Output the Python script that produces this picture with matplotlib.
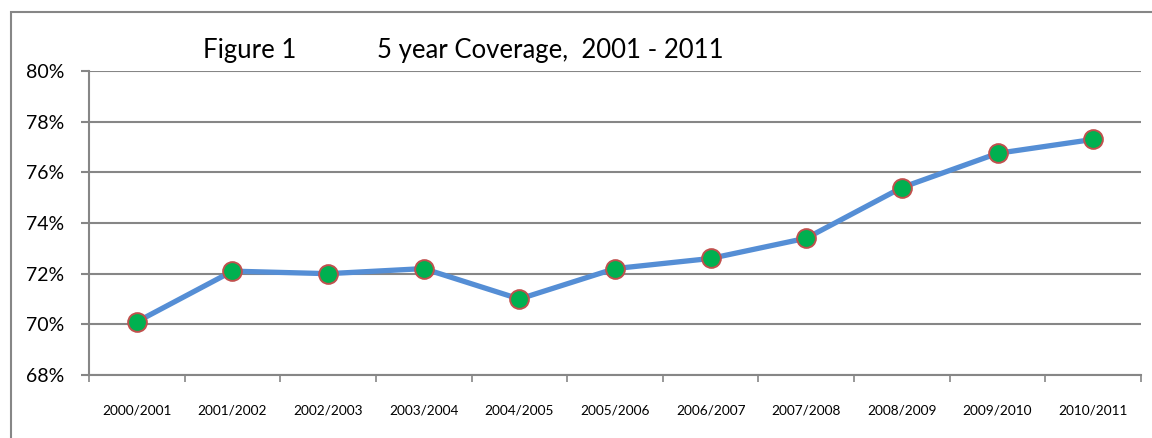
import matplotlib
matplotlib.use("Agg")
import matplotlib.pyplot as plt
from matplotlib.patches import Rectangle
from matplotlib.ticker import FixedLocator, PercentFormatter

plt.rcParams['font.family'] = ['Lato', 'DejaVu Sans']

categories = ["2000/2001", "2001/2002", "2002/2003", "2003/2004", "2004/2005",
              "2005/2006", "2006/2007", "2007/2008", "2008/2009", "2009/2010", "2010/2011"]
coverage = [70.1, 72.1, 72.0, 72.2, 71.0, 72.2, 72.6, 73.4, 75.4, 76.75, 77.3]
y_ticks = [68, 70, 72, 74, 76, 78, 80]

W, H = 1152, 438
fig = plt.figure(figsize=(W / 100, H / 100), dpi=100)
ax = fig.add_axes([89 / W, (H - 375) / H, (1141 - 89) / W, (375 - 71) / H])

grid_c = '#868686'
x = list(range(len(categories)))
ax.plot(x, coverage, color='#558ED5', lw=3.8, solid_capstyle='round', zorder=3,
        marker='o', markersize=13.5, markerfacecolor='#00B050',
        markeredgecolor='#C0504D', markeredgewidth=1.4)

ax.set_xlim(-0.5, len(categories) - 0.5)
ax.set_ylim(68, 80)
ax.yaxis.set_major_locator(FixedLocator(y_ticks))
ax.yaxis.set_major_formatter(PercentFormatter(decimals=0))
ax.grid(axis='y', color=grid_c, lw=1.5)
ax.set_axisbelow(True)

ax.set_xticks([i - 0.5 for i in range(len(categories) + 1)])
ax.set_xticklabels([])
ax.set_xticks(x, minor=True)
ax.set_xticklabels(categories, minor=True, fontsize=9.8)
ax.tick_params(axis='x', which='minor', length=0, pad=21)
ax.tick_params(axis='x', which='major', length=5, width=1.2, color=grid_c, direction='out')
ax.tick_params(axis='y', length=6, width=1.5, color=grid_c, labelsize=14, pad=12)

for s in ['top', 'right']:
    ax.spines[s].set_visible(False)
for s in ['left', 'bottom']:
    ax.spines[s].set_color(grid_c)
    ax.spines[s].set_linewidth(1.5)

fig.patches.append(Rectangle((11 / W, -0.1), 1.2, (H - 12) / H + 0.1,
                             transform=fig.transFigure, fill=False,
                             edgecolor=grid_c, lw=1.5))

fig.text(203 / W, (H - 58) / H, "Figure 1", fontsize=18.5, va='baseline', ha='left')
fig.text(377 / W, (H - 58) / H, "5 year Coverage,  2001 - 2011", fontsize=18.5,
         va='baseline', ha='left')

fig.savefig("out.png", dpi=100)
